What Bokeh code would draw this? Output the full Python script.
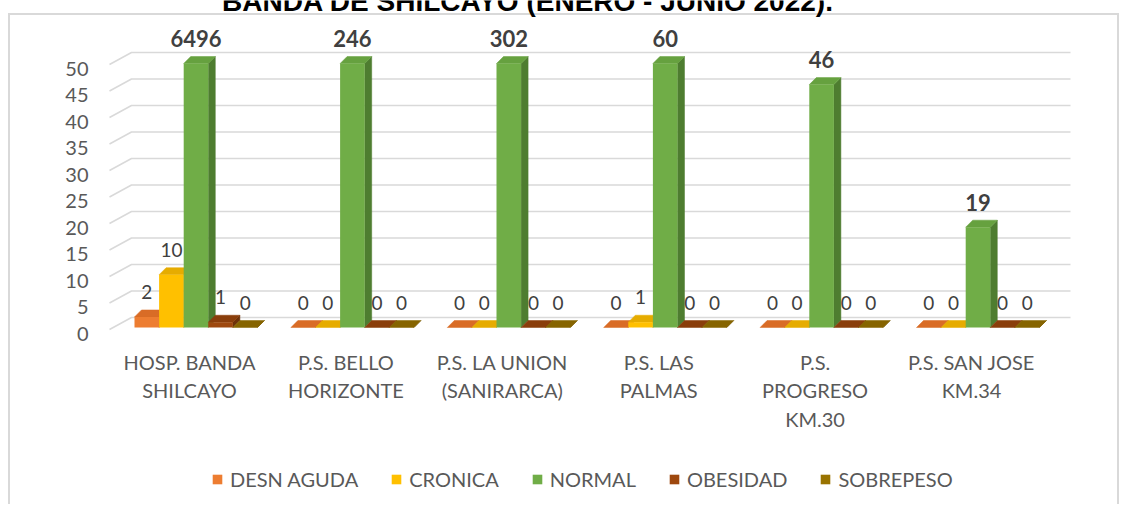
from bokeh.plotting import figure
from bokeh.models import Range1d, LinearAxis, FixedTicker, Legend, LegendItem
from bokeh.core.properties import value
from bokeh.embed import file_html
from bokeh.resources import INLINE

# ---------------- data ----------------
categories = ["HOSP. BANDA\nSHILCAYO", "P.S. BELLO\nHORIZONTE", "P.S. LA UNION\n(SANIRARCA)",
              "P.S. LAS\nPALMAS", "P.S.\nPROGRESO\nKM.30", "P.S. SAN JOSE\nKM.34"]
series_names = ["DESN AGUDA", "CRONICA", "NORMAL", "OBESIDAD", "SOBREPESO"]
desn_aguda = [2, 0, 0, 0, 0, 0]
cronica = [10, 0, 0, 1, 0, 0]
normal = [6496, 246, 302, 60, 46, 19]
obesidad = [1, 0, 0, 0, 0, 0]
sobrepeso = [0, 0, 0, 0, 0, 0]
y_ticks = [0, 5, 10, 15, 20, 25, 30, 35, 40, 45, 50]
y_max = 50
title_text = "BANDA DE SHILCAYO (ENERO - JUNIO 2022)."

series_values = [desn_aguda, cronica, normal, obesidad, sobrepeso]
front_colors = ["#ED7D31", "#FFC000", "#70AD47", "#9E480E", "#997300"]
top_colors = ["#D96C26", "#E6AC00", "#66A13F", "#8A3E0B", "#866400"]
side_colors = ["#B35A1F", "#BF9000", "#4E7D30", "#6E3209", "#6B5000"]

# ---------------- geometry (pixels) ----------------
W, H = 1112, 504
CAT_PX = 156.4          # px per category
PX_PER_UNIT = 5.28      # px per value unit (bars)
LAB_PX_PER_UNIT = 5.3   # px per unit (tick labels / walls)
BAR_W = 24.6 / CAT_PX
GROUP_OFF = 6.5 / CAT_PX
DDX = 7 / CAT_PX
DDY = 7 / PX_PER_UNIT

# frame in canvas px
F_LEFT, F_RIGHT, F_TOP, F_BOTTOM = 92, W, 0, H
X0_PX = 181            # canvas x of category 0 center
BAR0_PX = 327          # canvas y of value 0 (bars)
LAB0_PX = 333          # canvas y of value 0 (tick labels)
XAXIS_PX = 345         # canvas y of category axis


def cx(px):
    return (px - X0_PX) / CAT_PX


def cy(py):
    return (BAR0_PX - py) / PX_PER_UNIT


x_range = Range1d(cx(F_LEFT), cx(F_RIGHT))
y_range = Range1d(cy(F_BOTTOM), cy(F_TOP))

border = "linear-gradient(#d9d9d9,#d9d9d9)"
p = figure(width=W, height=H, x_range=x_range, y_range=y_range,
           output_backend="svg", toolbar_location=None, y_axis_location=None,
           min_border_left=F_LEFT, min_border_right=0,
           min_border_top=0, min_border_bottom=0)
p.styles = {
    "position": "absolute", "left": "8px", "top": "0px",
    "background": (f"{border} 0px 13px / 2px 491px no-repeat, "
                   f"{border} 1109px 13px / 2px 491px no-repeat, "
                   f"{border} 0px 13px / 1111px 2px no-repeat, #ffffff"),
}
p.outline_line_color = None
p.xgrid.visible = False
p.ygrid.visible = False
p.background_fill_alpha = 0
p.border_fill_alpha = 0

p.extra_y_ranges = {"lab": Range1d((LAB0_PX - F_BOTTOM) / LAB_PX_PER_UNIT,
                                   (LAB0_PX - F_TOP) / LAB_PX_PER_UNIT)}

FONT = "Lato"

# ---------------- title (cut at the top, as in the source image) ----------------
p.text(x=[cx(527.5 - 8)], y=[cy(1)], text=[title_text], text_align="center",
       text_baseline="middle", text_font=value("Liberation Sans"),
       text_font_style="bold", text_font_size="28px", text_color="#000000")

# ---------------- walls / gridlines ----------------
x_front, x_back, x_end = cx(109 - 8), cx(131 - 8), cx(1070 - 8)
gx, gy = [], []
for t in y_ticks:
    gx.append([x_front, x_back, x_end])
    gy.append([t + 4 / LAB_PX_PER_UNIT, t + 16 / LAB_PX_PER_UNIT, t + 16 / LAB_PX_PER_UNIT])
p.multi_line(gx, gy, line_color="#d9d9d9", line_width=1.5, y_range_name="lab")

# ---------------- 3D bars ----------------
legend_items = []
for s, (name, vals) in enumerate(zip(series_names, series_values)):
    lefts, rights, tops = [], [], []
    top_xs, top_ys, side_xs, side_ys = [], [], [], []
    lx, ly, lt = [], [], []
    for i, v in enumerate(vals):
        h = min(v, y_max)
        xl = i + GROUP_OFF + (s - 2.5) * BAR_W
        xr = xl + BAR_W
        lefts.append(xl); rights.append(xr); tops.append(h)
        top_xs.append([xl, xr, xr + DDX, xl + DDX])
        top_ys.append([h, h, h + DDY, h + DDY])
        side_xs.append([xr, xr + DDX, xr + DDX, xr])
        side_ys.append([0, DDY, h + DDY, h])
        lx.append((xl + xr) / 2)
        ly.append(h + 25 / PX_PER_UNIT)
        lt.append(str(v))
    p.patches(side_xs, side_ys, fill_color=side_colors[s], line_color=side_colors[s], line_width=0.5)
    p.patches(top_xs, top_ys, fill_color=top_colors[s], line_color=top_colors[s], line_width=0.5)
    r = p.quad(left=lefts, right=rights, bottom=[0] * len(vals), top=tops,
               fill_color=front_colors[s], line_color=None)
    legend_items.append(LegendItem(label=name, renderers=[r]))
    bold = name == "NORMAL"
    p.text(x=lx, y=ly, text=lt, text_align="center", text_baseline="middle",
           text_font=value(FONT), text_font_size="22px" if bold else "19px",
           text_font_style="bold" if bold else "normal", text_color="#404040")

# ---------------- axes ----------------
xaxis = p.xaxis[0]
xaxis.fixed_location = cy(XAXIS_PX)
xaxis.ticker = FixedTicker(ticks=list(range(len(categories))))
xaxis.major_label_overrides = {i: c for i, c in enumerate(categories)}
xaxis.axis_line_color = None
xaxis.major_tick_line_color = None
xaxis.minor_tick_line_color = None
xaxis.major_tick_out = 0
xaxis.major_label_standoff = 4
xaxis.major_label_text_font = FONT
xaxis.major_label_text_font_size = "20px"
xaxis.major_label_text_color = "#595959"
xaxis.major_label_text_line_height = 1.2

yaxis = LinearAxis(y_range_name="lab", ticker=FixedTicker(ticks=y_ticks))
yaxis.axis_line_color = None
yaxis.major_tick_line_color = None
yaxis.minor_tick_line_color = None
yaxis.major_tick_out = 0
yaxis.major_label_standoff = 12
yaxis.major_label_text_font = FONT
yaxis.major_label_text_font_size = "20px"
yaxis.major_label_text_color = "#595959"
p.add_layout(yaxis, "left")

# ---------------- legend ----------------
legend = Legend(items=legend_items, orientation="horizontal",
                location=(203 - F_LEFT, F_BOTTOM - 491),
                glyph_width=12, glyph_height=12, label_standoff=7, spacing=32,
                padding=0, margin=0, border_line_color=None, background_fill_alpha=0,
                label_text_font=FONT, label_text_font_size="20px",
                label_text_color="#595959", label_height=20)
p.add_layout(legend)

open("out.html", "w").write(file_html(p, INLINE))
